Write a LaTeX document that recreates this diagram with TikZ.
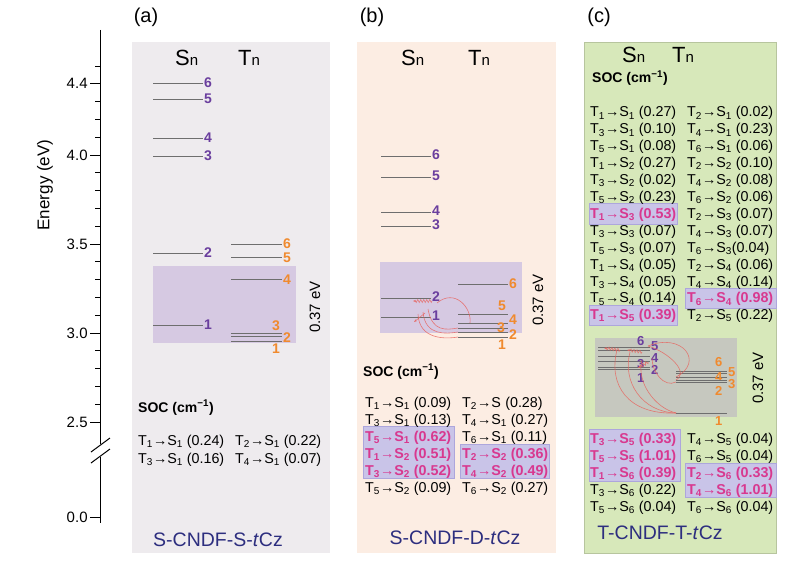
\documentclass[tikz,border=0pt]{standalone}
\usepackage{fontspec}
\setmainfont{Liberation Sans}
\usepackage{tikz}
\usetikzlibrary{arrows.meta,decorations.pathmorphing}

\definecolor{panela}{HTML}{EEEBEE}
\definecolor{panelb}{HTML}{FCEDE3}
\definecolor{panelc}{HTML}{D7E8BA}
\definecolor{winpurple}{HTML}{D6C9E2}
\definecolor{wingray}{HTML}{C6C8BF}
\definecolor{pickfill}{HTML}{C9C4E8}
\definecolor{pickline}{HTML}{ADA6DC}
\definecolor{hotpink}{HTML}{D8388F}
\definecolor{spurple}{HTML}{6A3E9E}
\definecolor{torange}{HTML}{F08A2E}
\definecolor{levelgray}{HTML}{6E6E6E}
\definecolor{navy}{HTML}{2D2E7F}
\definecolor{arcred}{HTML}{E8625C}

\newcommand{\soc}[3]{T\textsubscript{#1}→S\textsubscript{#2} (#3)}

\begin{document}
\begin{tikzpicture}[x=1pt,y=-1pt]
\tikzstyle{lvl}=[levelgray,line width=0.9pt]
\tikzstyle{snum}=[anchor=west,inner sep=0pt,text=spurple,font=\fontsize{14}{14}\selectfont\bfseries]
\tikzstyle{tnum}=[snum,text=torange]
\tikzstyle{socrow}=[anchor=base west,inner sep=0pt,font=\fontsize{14.3}{16}\selectfont]
\tikzstyle{socpeak}=[socrow,text=hotpink,font=\fontsize{14.3}{16}\selectfont\bfseries]
\tikzstyle{sochead}=[anchor=base west,inner sep=0pt,font=\fontsize{14}{14}\selectfont\bfseries]
\tikzstyle{hlrect}=[fill=pickfill,draw=pickline,line width=0.5pt]
\tikzstyle{gaplab}=[rotate=90,inner sep=0pt,font=\fontsize{15}{15}\selectfont]
\tikzstyle{statehead}=[anchor=base west,inner sep=0pt,font=\fontsize{22}{22}\selectfont]
\tikzstyle{molname}=[text=navy,font=\fontsize{19.5}{20}\selectfont]
\tikzstyle{tick}=[line width=0.8pt]
\tikzstyle{isc}=[arcred,line width=0.6pt,opacity=0.8]
\tikzstyle{wavy}=[isc,decorate,decoration={zigzag,segment length=3pt,amplitude=1.5pt,post length=2pt},-{Stealth[length=3pt]}]
% end of definitions
\useasboundingbox (0,0) rectangle (791,580);

% energy axis
\draw[line width=1pt] (100,30) -- (100,444);
\draw[line width=1pt] (100,457) -- (100,523);
\draw[line width=1pt] (91,452) -- (110,438); %break
\draw[line width=1pt] (91,463) -- (110,449);
\foreach \e in {2.6,2.7,...,4.55}
  \draw[tick] (100,{867-178*\e}) -- (95,{867-178*\e});
\foreach \e/\lab in {4.4/4.4,4.0/4.0,3.5/3.5,3.0/3.0,2.5/2.5}
  \draw[tick] (100,{867-178*\e}) -- (90,{867-178*\e}) node[anchor=east,inner sep=2pt,font=\fontsize{15}{15}\selectfont] {\lab};
\draw[tick] (100,517) -- (90,517) node[anchor=east,inner sep=2pt,font=\fontsize{15}{15}\selectfont] (zero) {0.0};
\node[rotate=90,font=\fontsize{17}{17}\selectfont] (ylab) at (45,185) {Energy (eV)};

% panels
\fill[panela] (132,42) rectangle (330,553);
\fill[panelb] (357,42) rectangle (556,553);
\fill[panelc] (584,42) rectangle (776,553);
\node[font=\fontsize{20}{20}\selectfont] (laba) at (146,17) {(a)};
\node[font=\fontsize{20}{20}\selectfont] (labb) at (372,17) {(b)};
\node[font=\fontsize{20}{20}\selectfont] (labc) at (599,17) {(c)};

%%% (a)
\node[statehead] (aSn) at (175,66) {S{\fontsize{15}{15}\selectfont n}};
\node[statehead] (aTn) at (238,66) {T{\fontsize{15}{15}\selectfont n}};
\fill[winpurple] (153,266) rectangle (296,343);
\foreach \n/\y in {6/83,5/99,4/138,3/156,2/253,1/325}{
  \draw[lvl] (153,\y) -- (203,\y) coordinate (aS\n);
  \node[snum] (aSl\n) at (204,\y) {\n};
}
\foreach \n/\y/\lx/\ly in {6/244/283/244,5/257/283/258,4/279/283/280,3/333/272/326,2/336/283/338,1/341/272/349}{
  \draw[lvl] (231,\y) coordinate (aT\n) -- (282,\y);
  \node[tnum] (aTl\n) at (\lx,\ly) {\n};
}
\node[gaplab] (agap) at (315,307) {0.37 eV};
\node[sochead] (asoc) at (138,412) {SOC (cm\textsuperscript{−1})};
\foreach \t/\s/\v/\st [count=\k] in {1/1/0.24/socrow,3/1/0.16/socrow}
  \node[\st] (aL\k) at (138,{445+18*(\k-1)}) {\soc{\t}{\s}{\v}};
\foreach \t/\s/\v/\st [count=\k] in {2/1/0.22/socrow,4/1/0.07/socrow}
  \node[\st] (aR\k) at (235,{445+18*(\k-1)}) {\soc{\t}{\s}{\v}};
\node[molname] (aname) at (218,540) {S-CNDF-S-\textit{t}Cz};

%%% (b)
\node[statehead] (bSn) at (401,66) {S{\fontsize{15}{15}\selectfont n}};
\node[statehead] (bTn) at (468,66) {T{\fontsize{15}{15}\selectfont n}};
\fill[winpurple] (380,262) rectangle (522,333);
\foreach \n/\y in {6/156,5/177,4/212,3/226,2/298,1/317}{
  \draw[lvl] (381,\y) -- (431,\y) coordinate (bS\n);
  \node[snum] (bSl\n) at (432,\y-1) {\n};
}
\foreach \n/\y/\lx/\ly in {6/284/509/284,5/314/498/306,4/323/509/320,3/328/497/328,2/332/509/335,1/337/498/345}{
  \draw[lvl] (458,\y) coordinate (bT\n) -- (508,\y);
  \node[tnum] (bTl\n) at (\lx,\ly) {\n};
}
\coordinate (bX1) at (428,309);
\coordinate (bX2) at (423,312);
\coordinate (bX3) at (418,314);
\coordinate (bX4) at (437,303);
\draw[isc] (bX4) .. controls (455,288) and (472,308) .. (470,323);
\draw[isc] (bX1) .. controls (432,332) and (446,330) .. (bT3);
\draw[isc] (bX2) .. controls (425,336) and (446,334) .. (bT2);
\draw[isc] (bX3) .. controls (419,340) and (446,339) .. (bT1);
\draw[wavy] (432,301) -- (413,301);
\draw[isc,-{Stealth[length=3pt]}] (425,313) -- (414,322);
\node[gaplab] (bgap) at (538,300) {0.37 eV};
\node[sochead] (bsoc) at (363,376) {SOC (cm\textsuperscript{−1})};
\fill[hlrect] (363,426) rectangle (454,478);
\fill[hlrect] (460,444) rectangle (549,478);
\draw[pickline,line width=0.5pt] (363,426) rectangle (454,478);
\draw[pickline,line width=0.5pt] (460,444) rectangle (549,478);
\foreach \t/\s/\v/\st [count=\k] in {1/1/0.09/socrow,3/1/0.13/socrow,5/1/0.62/socpeak,1/2/0.51/socpeak,3/2/0.52/socpeak,5/2/0.09/socrow}
  \node[\st] (bL\k) at (365,{407+17*(\k-1)}) {\soc{\t}{\s}{\v}};
\foreach \t/\s/\v/\st [count=\k] in {2//0.28/socrow,4/1/0.27/socrow,6/1/0.11/socrow,2/2/0.36/socpeak,4/2/0.49/socpeak,6/2/0.27/socrow}
  \node[\st] (bR\k) at (462,{407+17*(\k-1)}) {\soc{\t}{\s}{\v}};
\node[molname] (bname) at (455,538) {S-CNDF-D-\textit{t}Cz};

%%% (c)
\draw[panelc!85!black,line width=0.5pt] (584,42) rectangle (776,553);
\node[statehead] (cSn) at (622,63) {S{\fontsize{15}{15}\selectfont n}};
\node[statehead] (cTn) at (672,63) {T{\fontsize{15}{15}\selectfont n}};
\node[sochead] (csoc) at (592,83) {SOC (cm\textsuperscript{−1})};
\fill[hlrect] (589,203) rectangle (677,224);
\fill[hlrect] (589,305) rectangle (677,325);
\fill[hlrect] (685,288) rectangle (776,308);
\foreach \t/\s/\v/\st [count=\k] in {1/1/0.27/socrow,3/1/0.10/socrow,5/1/0.08/socrow,1/2/0.27/socrow,3/2/0.02/socrow,5/2/0.23/socrow,1/3/0.53/socpeak,3/3/0.07/socrow,5/3/0.07/socrow,1/4/0.05/socrow,3/4/0.05/socrow,5/4/0.14/socrow,1/5/0.39/socpeak}
  \node[\st] (cL\k) at (590,{117+16.9*(\k-1)}) {\soc{\t}{\s}{\v}};
\foreach \t/\s/\v/\st/\k in {2/1/0.02/socrow/1,4/1/0.23/socrow/2,6/1/0.06/socrow/3,2/2/0.10/socrow/4,4/2/0.08/socrow/5,6/2/0.06/socrow/6,2/3/0.07/socrow/7,4/3/0.07/socrow/8,2/4/0.06/socrow/10,4/4/0.14/socrow/11,6/4/0.98/socpeak/12,2/5/0.22/socrow/13}
  \node[\st] (cR\k) at (687,{117+16.9*(\k-1)}) {\soc{\t}{\s}{\v}};
\node[socrow] (cR9) at (687,{117+16.9*8}) {T\textsubscript{6}→S\textsubscript{3}(0.04)};
\fill[wingray] (595,338) rectangle (737,417);
\foreach \n/\y/\lx/\ly in {6/347/637/341,5/350/651/346,4/356/651/358,3/361/637/364,2/367/651/370,1/369/637/378}{
  \draw[lvl] (598,\y) -- (650,\y) coordinate (cS\n);
  \node[snum,font=\fontsize{13}{13}\selectfont\bfseries] (cSl\n) at (\lx,\ly) {\n};
}
\foreach \n/\y/\lx/\ly in {6/371/715/362,5/373/728/372,4/377/715/377,3/380/728/384,2/382/715/391,1/413/715/421}{
  \draw[lvl] (676,\y) coordinate (cT\n) -- (727,\y);
  \node[tnum,font=\fontsize{13}{13}\selectfont\bfseries] (cTl\n) at (\lx,\ly) {\n};
}
\coordinate (cX1) at (617,350);
\coordinate (cX2) at (630,352);
\coordinate (cX3) at (642,360);
\coordinate (cX4) at (648,346);
\coordinate (cX5) at (652,358);
\draw[isc] (cT1) .. controls (628,415) and (608,385) .. (cX1);
\draw[isc] (cT1) .. controls (642,412) and (622,382) .. (cX2);
\draw[isc] (cT1) .. controls (655,408) and (636,382) .. (cX3);
\draw[isc] (cT4) .. controls (705,362) and (682,332) .. (cX4);
\draw[isc] (cT2) .. controls (664,388) and (652,372) .. (cX5);
\draw[isc] (cT3) .. controls (690,372) and (668,352) .. (cX4);
\draw[wavy] (620,350) -- (604,348);
\draw[wavy] (642,352) -- (627,350);
\draw[wavy] (648,362) -- (638,368);
\node[gaplab] (cgap) at (758,378) {0.37 eV};
\fill[hlrect] (589,429) rectangle (680,481);
\fill[hlrect] (685,463) rectangle (776,497);
\foreach \t/\s/\v/\st [count=\k] in {3/5/0.33/socpeak,5/5/1.01/socpeak,1/6/0.39/socpeak,3/6/0.22/socrow,5/6/0.04/socrow}
  \node[\st] (cB\k) at (590,{443+17*(\k-1)}) {\soc{\t}{\s}{\v}};
\foreach \t/\s/\v/\st [count=\k] in {4/5/0.04/socrow,6/5/0.04/socrow,2/6/0.33/socpeak,4/6/1.01/socpeak,6/6/0.04/socrow}
  \node[\st] (cD\k) at (687,{443+17*(\k-1)}) {\soc{\t}{\s}{\v}};
\node[molname] (cname) at (660,533) {T-CNDF-T-\textit{t}Cz};
\end{tikzpicture}
\end{document}
